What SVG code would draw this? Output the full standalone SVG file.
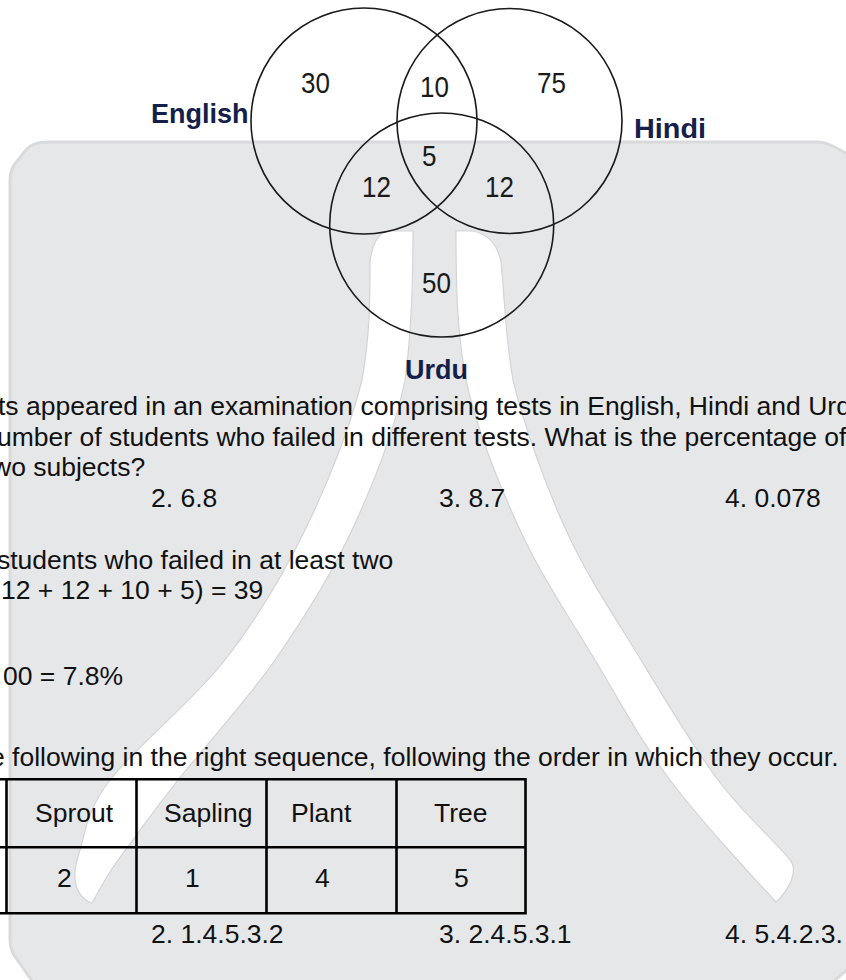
<svg xmlns="http://www.w3.org/2000/svg" width="846" height="980" viewBox="0 0 846 980">
<style>
.t{font-family:"Liberation Sans",Arial,sans-serif;font-size:26.5px;fill:#111111}
.lab{font-family:"Liberation Sans",Arial,sans-serif;font-weight:bold;font-size:27px;fill:#14204a}
.num{font-family:"Liberation Sans",Arial,sans-serif;font-size:26px;fill:#1a1a1a}
.ring{fill:none;stroke:#1a1a1a;stroke-width:1.6}
.leg{fill:#ffffff;stroke:#d3d4d6;stroke-width:1.2}
.grid{stroke:#000000;stroke-width:2.6;fill:none}
</style>
<rect x="0" y="0" width="846" height="980" fill="#ffffff"/>
<g id="background">
<path d="M48,142 L818,142 C826,142 834,146 858,160 L858,960 L826,988 L48,988 Q38,988 30,978 L14,955 Q10,948 10,940 L10,180 Q10,172 14,165 L26,150 Q32,142 48,142 Z" fill="#e6e7e9" stroke="#d9dadc" stroke-width="3"/>
<path class="leg" d="M385,231 L413,231 C413,280 412,330 405,380 C394.8,429.8 373.7,483.3 352,530 C330.3,576.7 304,618.3 275,660 C246,701.7 201.3,750.5 178,780 C154.7,809.5 146.3,821.7 135,837 C123.7,852.3 117.2,861 110,872 C102.8,883 96,896 92,903 C86,902 78,893.8 76,885 C74,876.2 74.3,867.5 80,850 C85.7,832.5 85.8,811.7 110,780 C134.2,748.3 192.5,701.7 225,660 C257.5,618.3 282.2,576.7 305,530 C327.8,483.3 351.2,424.7 362,380 C370,335 370,300 370,262 Q373,238 385,231 Z"/>
<path class="leg" d="M456,231 L473,231 Q496,236 501,262 C505,300 505,335 513,380 C523.8,424.7 544.7,483.3 566,530 C587.3,576.7 615.7,618.3 641,660 C666.3,701.7 693.2,746.7 718,780 C742.8,813.3 777.7,843.7 790,860 C795,866 794,872 792,878 C790,886 782,897 776,902 C760,885 700.2,820.3 670,780 C639.8,739.7 620,701.7 595,660 C570,618.3 541.5,576.7 520,530 C498.5,483.3 476.7,429.8 466,380 C457,330 456,290 456,231 Z"/>
</g>
<g id="connectors"></g>
<g id="english">
<circle class="ring" cx="364" cy="121" r="113"/>
<text class="lab" x="151" y="122.7">English</text>
</g>
<g id="hindi">
<circle class="ring" cx="509.5" cy="121" r="112.5"/>
<text class="lab" x="634" y="138" textLength="72" lengthAdjust="spacingAndGlyphs">Hindi</text>
</g>
<g id="urdu">
<circle class="ring" cx="441.7" cy="225" r="112"/>
<text class="lab" x="405" y="379">Urdu</text>
</g>
<g id="region-values">
<text class="num" transform="translate(301,93) scale(1,1.13)">30</text>
<text class="num" transform="translate(420,97) scale(1,1.13)">10</text>
<text class="num" transform="translate(537,93) scale(1,1.13)">75</text>
<text class="num" transform="translate(422,166) scale(1,1.13)">5</text>
<text class="num" transform="translate(362,197) scale(1,1.13)">12</text>
<text class="num" transform="translate(485,197) scale(1,1.13)">12</text>
<text class="num" transform="translate(422,293) scale(1,1.13)">50</text>
</g>
<g id="question1">
<text class="t" x="-2" y="415">ts appeared in an examination comprising tests in English, Hindi and Urd</text>
<text class="t" x="-3" y="445.5">umber of students who failed in different tests. What is the percentage of</text>
<text class="t" x="-8" y="476">wo subjects?</text>
<text class="t" x="151" y="506.5">2. 6.8</text>
<text class="t" x="439" y="506.5">3. 8.7</text>
<text class="t" x="725" y="506.5">4. 0.078</text>
</g>
<g id="solution1">
<text class="t" x="-3" y="569">students who failed in at least two</text>
<text class="t" x="1" y="599">12 + 12 + 10 + 5) = 39</text>
<text class="t" x="3" y="685">00 = 7.8%</text>
</g>
<g id="question2">
<text class="t" x="-10" y="766">e following in the right sequence, following the order in which they occur.</text>
</g>
<g id="table">
<path class="grid" d="M0,779.3 H525.5 M0,847.3 H525.5 M0,913.3 H525.5 M6.5,779.3 V913.3 M136.5,779.3 V913.3 M266.5,779.3 V913.3 M396.5,779.3 V913.3 M525.5,778 V914.6"/>
<text class="t" x="35" y="821.7">Sprout</text>
<text class="t" x="164" y="821.7">Sapling</text>
<text class="t" x="291" y="821.7">Plant</text>
<text class="t" x="434" y="821.7">Tree</text>
<text class="t" x="57" y="886.7">2</text>
<text class="t" x="185" y="886.7">1</text>
<text class="t" x="315" y="886.7">4</text>
<text class="t" x="454" y="886.7">5</text>
</g>
<g id="options2">
<text class="t" x="151" y="943">2. 1.4.5.3.2</text>
<text class="t" x="439" y="943">3. 2.4.5.3.1</text>
<text class="t" x="725" y="943">4. 5.4.2.3.</text>
</g>
</svg>
